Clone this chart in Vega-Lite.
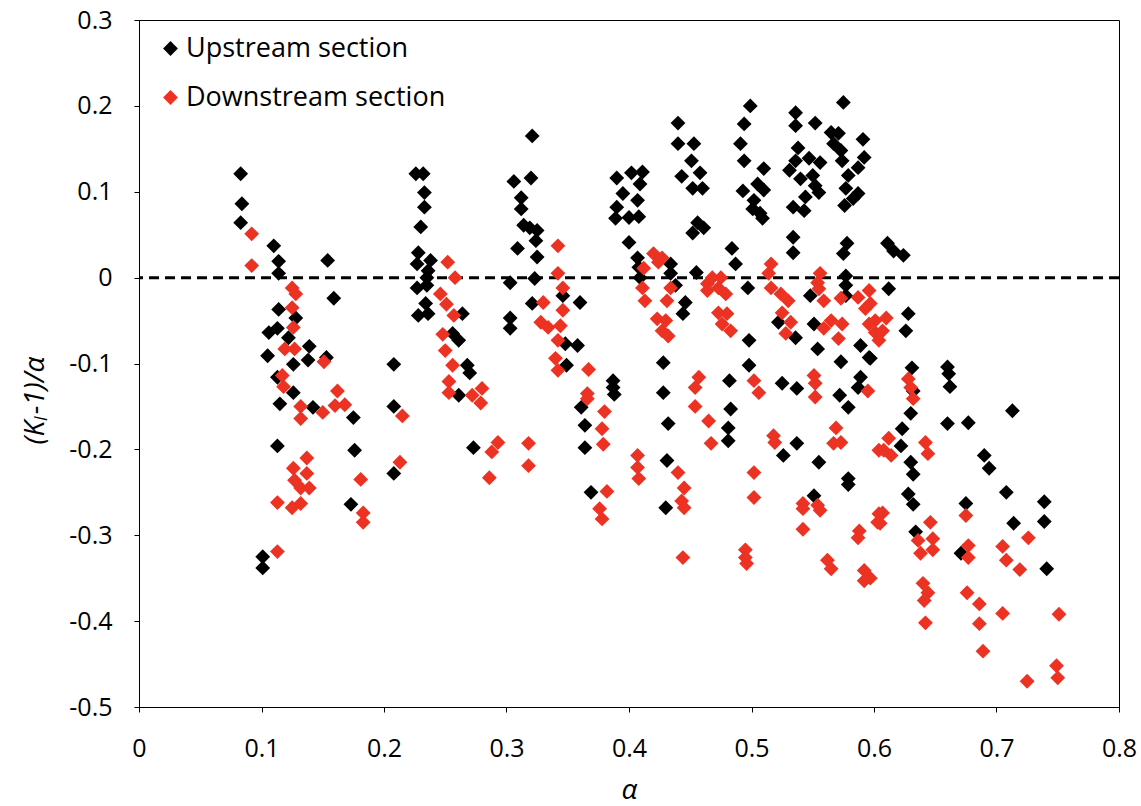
{
"$schema": "https://vega.github.io/schema/vega-lite/v6.json",
"width": 980, "height": 687,
"autosize": {"type": "none"},
"padding": {"left": 139, "top": 20, "right": 22, "bottom": 99},
"background": "white",
"config": {
 "view": {"stroke": "#000000", "strokeWidth": 1},
 "font": "Open Sans",
 "axis": {"grid": false, "domainColor": "#000000", "tickColor": "#000000", "tickSize": 5, "labelFont": "Open Sans", "labelFontSize": 25, "labelColor": "#000000", "titleFont": "Open Sans", "titleFontSize": 28, "titleFontWeight": "normal", "titleColor": "#000000", "labelFlush": false, "labelOverlap": false, "labelBound": false}
},
"datasets": {
"up": [
{"a":0.083,"v":0.121},{"a":0.084,"v":0.086},{"a":0.083,"v":0.064},{"a":0.110,"v":0.037},{"a":0.114,"v":0.019},{"a":0.114,"v":0.005},{"a":0.154,"v":0.020},{"a":0.159,"v":-0.024},{"a":0.114,"v":-0.037},{"a":0.128,"v":-0.047},{"a":0.106,"v":-0.064},{"a":0.113,"v":-0.059},{"a":0.122,"v":-0.070},{"a":0.139,"v":-0.080},{"a":0.105,"v":-0.091},{"a":0.126,"v":-0.101},{"a":0.138,"v":-0.096},{"a":0.153,"v":-0.093},{"a":0.113,"v":-0.116},{"a":0.126,"v":-0.134},{"a":0.115,"v":-0.147},{"a":0.142,"v":-0.151},{"a":0.175,"v":-0.163},{"a":0.208,"v":-0.101},{"a":0.208,"v":-0.150},{"a":0.113,"v":-0.196},{"a":0.176,"v":-0.201},{"a":0.208,"v":-0.228},{"a":0.173,"v":-0.264},{"a":0.101,"v":-0.325},{"a":0.101,"v":-0.338},
{"a":0.226,"v":0.121},{"a":0.232,"v":0.121},{"a":0.233,"v":0.099},{"a":0.233,"v":0.082},{"a":0.230,"v":0.059},{"a":0.228,"v":0.029},{"a":0.227,"v":0.016},{"a":0.238,"v":0.020},{"a":0.236,"v":0.008},{"a":0.235,"v":0.000},{"a":0.227,"v":-0.012},{"a":0.235,"v":-0.009},{"a":0.234,"v":-0.030},{"a":0.228,"v":-0.044},{"a":0.236,"v":-0.042},{"a":0.264,"v":-0.042},{"a":0.256,"v":-0.065},{"a":0.261,"v":-0.073},{"a":0.268,"v":-0.102},{"a":0.270,"v":-0.111},{"a":0.261,"v":-0.137},{"a":0.273,"v":-0.198},
{"a":0.321,"v":0.165},{"a":0.306,"v":0.112},{"a":0.320,"v":0.116},{"a":0.312,"v":0.093},{"a":0.312,"v":0.080},{"a":0.314,"v":0.061},{"a":0.319,"v":0.058},{"a":0.325,"v":0.055},{"a":0.324,"v":0.043},{"a":0.309,"v":0.034},{"a":0.325,"v":0.024},{"a":0.303,"v":-0.006},{"a":0.323,"v":-0.001},{"a":0.321,"v":-0.030},{"a":0.303,"v":-0.047},{"a":0.303,"v":-0.059},{"a":0.346,"v":-0.021},{"a":0.360,"v":-0.029},{"a":0.348,"v":-0.077},{"a":0.358,"v":-0.079},{"a":0.349,"v":-0.102},{"a":0.387,"v":-0.120},{"a":0.387,"v":-0.128},{"a":0.388,"v":-0.136},{"a":0.361,"v":-0.151},{"a":0.364,"v":-0.172},{"a":0.364,"v":-0.198},{"a":0.369,"v":-0.250},
{"a":0.390,"v":0.116},{"a":0.402,"v":0.122},{"a":0.411,"v":0.123},{"a":0.409,"v":0.109},{"a":0.395,"v":0.098},{"a":0.407,"v":0.090},{"a":0.390,"v":0.082},{"a":0.389,"v":0.069},{"a":0.400,"v":0.070},{"a":0.408,"v":0.071},{"a":0.400,"v":0.041},{"a":0.407,"v":0.023},{"a":0.408,"v":0.012},{"a":0.409,"v":0.000},{"a":0.434,"v":0.016},{"a":0.428,"v":-0.099},{"a":0.428,"v":-0.134},{"a":0.432,"v":-0.170},{"a":0.431,"v":-0.213},{"a":0.430,"v":-0.268},{"a":0.434,"v":0.005},{"a":0.438,"v":-0.009},{"a":0.446,"v":-0.029},{"a":0.444,"v":-0.042},
{"a":0.440,"v":0.180},{"a":0.440,"v":0.156},{"a":0.453,"v":0.156},{"a":0.451,"v":0.136},{"a":0.443,"v":0.118},{"a":0.458,"v":0.122},{"a":0.452,"v":0.104},{"a":0.460,"v":0.104},{"a":0.456,"v":0.064},{"a":0.452,"v":0.052},{"a":0.461,"v":0.058},{"a":0.455,"v":0.006},{"a":0.484,"v":0.034},{"a":0.487,"v":0.016},{"a":0.482,"v":-0.120},{"a":0.483,"v":-0.153},{"a":0.481,"v":-0.175},{"a":0.481,"v":-0.190},
{"a":0.499,"v":0.200},{"a":0.494,"v":0.179},{"a":0.491,"v":0.156},{"a":0.494,"v":0.136},{"a":0.510,"v":0.127},{"a":0.493,"v":0.101},{"a":0.505,"v":0.109},{"a":0.510,"v":0.102},{"a":0.502,"v":0.090},{"a":0.501,"v":0.080},{"a":0.507,"v":0.075},{"a":0.509,"v":0.069},{"a":0.497,"v":-0.012},{"a":0.498,"v":-0.073},{"a":0.498,"v":-0.102},{"a":0.522,"v":-0.052},{"a":0.536,"v":-0.070},{"a":0.525,"v":-0.123},{"a":0.537,"v":-0.129},{"a":0.537,"v":-0.193},{"a":0.526,"v":-0.207},
{"a":0.536,"v":0.192},{"a":0.536,"v":0.177},{"a":0.552,"v":0.180},{"a":0.538,"v":0.151},{"a":0.536,"v":0.136},{"a":0.531,"v":0.125},{"a":0.547,"v":0.139},{"a":0.556,"v":0.134},{"a":0.540,"v":0.115},{"a":0.550,"v":0.119},{"a":0.552,"v":0.107},{"a":0.555,"v":0.099},{"a":0.544,"v":0.094},{"a":0.534,"v":0.082},{"a":0.543,"v":0.078},{"a":0.534,"v":0.047},{"a":0.534,"v":0.029},{"a":0.548,"v":-0.021},{"a":0.551,"v":-0.054},{"a":0.554,"v":-0.083},{"a":0.555,"v":-0.215},{"a":0.551,"v":-0.254},
{"a":0.575,"v":0.204},{"a":0.565,"v":0.169},{"a":0.571,"v":0.168},{"a":0.567,"v":0.156},{"a":0.573,"v":0.148},{"a":0.574,"v":0.136},{"a":0.591,"v":0.161},{"a":0.592,"v":0.140},{"a":0.587,"v":0.128},{"a":0.579,"v":0.119},{"a":0.577,"v":0.104},{"a":0.587,"v":0.098},{"a":0.583,"v":0.092},{"a":0.576,"v":0.084},{"a":0.578,"v":0.040},{"a":0.575,"v":0.028},{"a":0.577,"v":0.002},{"a":0.577,"v":-0.009},{"a":0.577,"v":-0.021},{"a":0.573,"v":-0.098},{"a":0.589,"v":-0.079},{"a":0.596,"v":-0.093},{"a":0.589,"v":-0.116},{"a":0.587,"v":-0.128},{"a":0.572,"v":-0.137},{"a":0.579,"v":-0.151},{"a":0.579,"v":-0.234},{"a":0.579,"v":-0.241},
{"a":0.611,"v":0.040},{"a":0.616,"v":0.031},{"a":0.624,"v":0.026},{"a":0.612,"v":-0.013},{"a":0.628,"v":-0.042},{"a":0.626,"v":-0.062},{"a":0.597,"v":-0.094},{"a":0.631,"v":-0.105},{"a":0.632,"v":-0.132},{"a":0.630,"v":-0.158},{"a":0.623,"v":-0.176},{"a":0.622,"v":-0.196},{"a":0.630,"v":-0.215},{"a":0.632,"v":-0.229},{"a":0.628,"v":-0.252},{"a":0.632,"v":-0.264},{"a":0.634,"v":-0.296},
{"a":0.660,"v":-0.104},{"a":0.661,"v":-0.112},{"a":0.662,"v":-0.127},{"a":0.660,"v":-0.170},{"a":0.677,"v":-0.169},{"a":0.713,"v":-0.155},{"a":0.690,"v":-0.207},{"a":0.694,"v":-0.222},{"a":0.675,"v":-0.263},{"a":0.708,"v":-0.250},{"a":0.714,"v":-0.286},{"a":0.739,"v":-0.261},{"a":0.739,"v":-0.284},{"a":0.741,"v":-0.339},{"a":0.671,"v":-0.321}
],
"down": [
{"a":0.092,"v":0.051},{"a":0.092,"v":0.014},{"a":0.125,"v":-0.012},{"a":0.128,"v":-0.019},{"a":0.125,"v":-0.035},{"a":0.126,"v":-0.058},{"a":0.119,"v":-0.083},{"a":0.127,"v":-0.083},{"a":0.151,"v":-0.098},{"a":0.117,"v":-0.114},{"a":0.118,"v":-0.127},{"a":0.162,"v":-0.132},{"a":0.132,"v":-0.150},{"a":0.160,"v":-0.149},{"a":0.168,"v":-0.148},{"a":0.150,"v":-0.157},{"a":0.132,"v":-0.164},{"a":0.215,"v":-0.161},{"a":0.137,"v":-0.210},{"a":0.126,"v":-0.222},{"a":0.137,"v":-0.228},{"a":0.213,"v":-0.215},{"a":0.181,"v":-0.235},{"a":0.127,"v":-0.236},{"a":0.132,"v":-0.245},{"a":0.139,"v":-0.245},{"a":0.113,"v":-0.262},{"a":0.125,"v":-0.268},{"a":0.132,"v":-0.263},{"a":0.183,"v":-0.274},{"a":0.183,"v":-0.285},{"a":0.113,"v":-0.319},
{"a":0.252,"v":0.018},{"a":0.258,"v":0.000},{"a":0.246,"v":-0.019},{"a":0.251,"v":-0.031},{"a":0.257,"v":-0.044},{"a":0.248,"v":-0.066},{"a":0.250,"v":-0.085},{"a":0.256,"v":-0.102},{"a":0.253,"v":-0.121},{"a":0.253,"v":-0.134},{"a":0.272,"v":-0.137},{"a":0.280,"v":-0.129},{"a":0.279,"v":-0.146},{"a":0.293,"v":-0.192},{"a":0.288,"v":-0.203},{"a":0.286,"v":-0.233},
{"a":0.342,"v":0.037},{"a":0.342,"v":0.005},{"a":0.346,"v":-0.012},{"a":0.330,"v":-0.029},{"a":0.346,"v":-0.038},{"a":0.328,"v":-0.052},{"a":0.334,"v":-0.058},{"a":0.344,"v":-0.056},{"a":0.342,"v":-0.073},{"a":0.340,"v":-0.094},{"a":0.342,"v":-0.108},{"a":0.318,"v":-0.193},{"a":0.318,"v":-0.219},{"a":0.367,"v":-0.107},{"a":0.366,"v":-0.135},{"a":0.366,"v":-0.141},{"a":0.380,"v":-0.156},{"a":0.378,"v":-0.176},{"a":0.379,"v":-0.194},{"a":0.382,"v":-0.249},{"a":0.376,"v":-0.269},{"a":0.378,"v":-0.281},
{"a":0.412,"v":0.011},{"a":0.420,"v":0.028},{"a":0.424,"v":0.018},{"a":0.411,"v":-0.012},{"a":0.413,"v":-0.027},{"a":0.423,"v":-0.048},{"a":0.427,"v":-0.062},{"a":0.431,"v":-0.027},{"a":0.427,"v":0.023},{"a":0.434,"v":-0.012},{"a":0.430,"v":-0.050},{"a":0.432,"v":-0.068},{"a":0.407,"v":-0.207},{"a":0.407,"v":-0.221},{"a":0.408,"v":-0.234},
{"a":0.464,"v":-0.007},{"a":0.468,"v":0.000},{"a":0.475,"v":0.000},{"a":0.464,"v":-0.015},{"a":0.473,"v":-0.012},{"a":0.479,"v":-0.019},{"a":0.473,"v":-0.041},{"a":0.480,"v":-0.042},{"a":0.476,"v":-0.054},{"a":0.483,"v":-0.062},{"a":0.457,"v":-0.116},{"a":0.454,"v":-0.128},{"a":0.454,"v":-0.150},{"a":0.465,"v":-0.167},{"a":0.467,"v":-0.193},{"a":0.440,"v":-0.227},{"a":0.445,"v":-0.245},{"a":0.443,"v":-0.260},{"a":0.445,"v":-0.268},{"a":0.444,"v":-0.326},
{"a":0.516,"v":0.016},{"a":0.514,"v":0.005},{"a":0.516,"v":-0.012},{"a":0.524,"v":-0.019},{"a":0.530,"v":-0.027},{"a":0.525,"v":-0.041},{"a":0.532,"v":-0.052},{"a":0.528,"v":-0.065},{"a":0.502,"v":-0.120},{"a":0.506,"v":-0.134},{"a":0.518,"v":-0.184},{"a":0.519,"v":-0.192},{"a":0.502,"v":-0.227},{"a":0.502,"v":-0.256},{"a":0.495,"v":-0.317},{"a":0.495,"v":-0.326},{"a":0.496,"v":-0.333},
{"a":0.556,"v":0.005},{"a":0.554,"v":-0.006},{"a":0.555,"v":-0.013},{"a":0.559,"v":-0.027},{"a":0.573,"v":-0.024},{"a":0.565,"v":-0.050},{"a":0.559,"v":-0.059},{"a":0.574,"v":-0.054},{"a":0.571,"v":-0.071},{"a":0.551,"v":-0.114},{"a":0.552,"v":-0.123},{"a":0.552,"v":-0.139},{"a":0.569,"v":-0.175},{"a":0.573,"v":-0.192},{"a":0.567,"v":-0.193},{"a":0.542,"v":-0.263},{"a":0.542,"v":-0.269},{"a":0.554,"v":-0.265},{"a":0.556,"v":-0.271},{"a":0.542,"v":-0.293},{"a":0.562,"v":-0.329},{"a":0.565,"v":-0.339},
{"a":0.587,"v":-0.023},{"a":0.596,"v":-0.015},{"a":0.593,"v":-0.036},{"a":0.596,"v":-0.054},{"a":0.601,"v":-0.064},{"a":0.601,"v":-0.050},{"a":0.610,"v":-0.047},{"a":0.607,"v":-0.062},{"a":0.604,"v":-0.073},{"a":0.597,"v":-0.030},{"a":0.595,"v":-0.132},{"a":0.604,"v":-0.201},{"a":0.588,"v":-0.295},{"a":0.587,"v":-0.303},{"a":0.592,"v":-0.341},{"a":0.592,"v":-0.353},{"a":0.604,"v":-0.275},{"a":0.603,"v":-0.285},{"a":0.628,"v":-0.118},{"a":0.630,"v":-0.128},{"a":0.632,"v":-0.141},{"a":0.612,"v":-0.187},{"a":0.608,"v":-0.201},{"a":0.614,"v":-0.207},{"a":0.642,"v":-0.192},{"a":0.644,"v":-0.205},{"a":0.607,"v":-0.274},{"a":0.605,"v":-0.286},{"a":0.646,"v":-0.285},{"a":0.636,"v":-0.306},{"a":0.648,"v":-0.304},{"a":0.638,"v":-0.321},{"a":0.648,"v":-0.317},{"a":0.640,"v":-0.356},{"a":0.644,"v":-0.367},{"a":0.641,"v":-0.376},{"a":0.642,"v":-0.402},{"a":0.597,"v":-0.350},
{"a":0.675,"v":-0.277},{"a":0.677,"v":-0.312},{"a":0.677,"v":-0.326},{"a":0.705,"v":-0.313},{"a":0.708,"v":-0.329},{"a":0.719,"v":-0.340},{"a":0.726,"v":-0.303},{"a":0.676,"v":-0.367},{"a":0.686,"v":-0.380},{"a":0.686,"v":-0.403},{"a":0.705,"v":-0.391},{"a":0.689,"v":-0.435},{"a":0.751,"v":-0.392},{"a":0.749,"v":-0.452},{"a":0.750,"v":-0.466},{"a":0.725,"v":-0.470}
]
},
"layer": [
{
 "data": {"values": [{}]},
 "mark": {"type": "rule", "color": "#000000", "strokeWidth": 3, "strokeDash": [10, 6]},
 "encoding": {"y": {"datum": 0, "type": "quantitative", "scale": {"domain": [-0.5, 0.3], "nice": false}, "title": "(Kₗ-1)/α"}}
},
{
 "data": {"name": "up"},
 "mark": {"type": "point", "shape": "diamond", "filled": true, "size": 220, "opacity": 1},
 "encoding": {
  "x": {"field": "a", "type": "quantitative", "scale": {"domain": [0, 0.8], "nice": false}, "title": "α",
        "axis": {"values": [0, 0.1, 0.2, 0.3, 0.4, 0.5, 0.6, 0.7, 0.8], "labelExpr": "replace(format(datum.value, '.1~f'), '\u2212', '-')", "labelPadding": 24, "titleFontStyle": "italic", "titleY": 83, "titleBaseline": "middle"}},
  "y": {"field": "v", "type": "quantitative", "scale": {"domain": [-0.5, 0.3], "nice": false}, "title": "(Kₗ-1)/α",
        "axis": {"values": [-0.5, -0.4, -0.3, -0.2, -0.1, 0, 0.1, 0.2, 0.3], "labelExpr": "replace(format(datum.value, '.1~f'), '\u2212', '-')", "labelPadding": 22, "titleFontStyle": "italic", "titleX": -104, "titleY": 380, "titleAngle": -90, "titleAlign": "center", "titleBaseline": "middle"}},
  "color": {"datum": "Upstream section", "type": "nominal", "scale": {"domain": ["Upstream section", "Downstream section"], "range": ["#000000", "#EC3223"]},
            "legend": {"orient": "none", "legendX": 18, "legendY": 15, "title": null, "symbolType": "diamond", "symbolSize": 220, "labelFont": "Open Sans", "labelFontSize": 27, "labelColor": "#000000", "labelOffset": 2, "labelLimit": 0, "rowPadding": 21, "symbolStrokeWidth": 0}}
 }
},
{
 "data": {"name": "down"},
 "mark": {"type": "point", "shape": "diamond", "filled": true, "size": 220, "opacity": 1},
 "encoding": {
  "x": {"field": "a", "type": "quantitative", "scale": {"domain": [0, 0.8], "nice": false}, "title": "α"},
  "y": {"field": "v", "type": "quantitative", "scale": {"domain": [-0.5, 0.3], "nice": false}, "title": "(Kₗ-1)/α"},
  "color": {"datum": "Downstream section", "type": "nominal", "scale": {"domain": ["Upstream section", "Downstream section"], "range": ["#000000", "#EC3223"]}}
 }
}
]
}
